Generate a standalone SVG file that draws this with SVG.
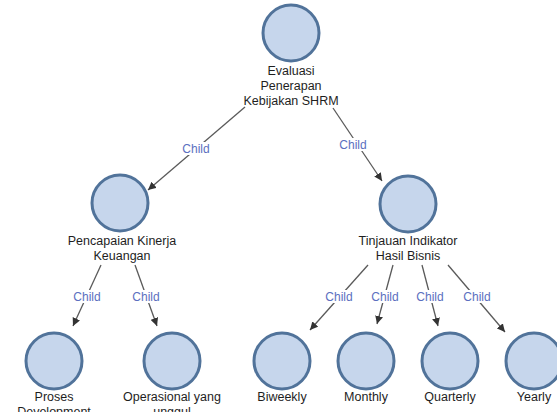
<svg xmlns="http://www.w3.org/2000/svg" width="557" height="412" viewBox="0 0 557 412">
  <defs>
    <marker id="arrow" viewBox="0 0 10 10" refX="10" refY="5" markerWidth="8" markerHeight="8" markerUnits="userSpaceOnUse" orient="auto">
      <path d="M0,0 L10,5 L0,10 z" fill="#333"/>
    </marker>
    <style>
      .node circle { fill: #c6d6ec; stroke: #51739a; stroke-width: 3; }
      .node text { font-family: "Liberation Sans", Arial, sans-serif; font-size: 12.5px; fill: #1e1e1e; text-anchor: middle; }
      .edge line { stroke: #5a5a5a; stroke-width: 1.3; marker-end: url(#arrow); }
      .edge rect { fill: #fff; }
      .edge text { font-family: "Liberation Sans", Arial, sans-serif; font-size: 12px; fill: #5b6fc0; text-anchor: middle; }
    </style>
  </defs>
  <rect width="557" height="412" fill="#fff"/>

  <g id="connectors">
    <g class="edge"><line x1="245" y1="107" x2="148" y2="190"/><rect x="181" y="142" width="30" height="13"/><text x="196" y="153">Child</text></g>
    <g class="edge"><line x1="333" y1="108" x2="382" y2="181"/><rect x="338" y="138" width="30" height="13"/><text x="353" y="149">Child</text></g>
    <g class="edge"><line x1="101" y1="265" x2="73" y2="326"/><rect x="72" y="290" width="30" height="13"/><text x="87" y="301">Child</text></g>
    <g class="edge"><line x1="135" y1="265" x2="157" y2="326"/><rect x="131" y="290" width="30" height="13"/><text x="146" y="301">Child</text></g>
    <g class="edge"><line x1="368" y1="265" x2="310" y2="330"/><rect x="324" y="290" width="30" height="13"/><text x="339" y="301">Child</text></g>
    <g class="edge"><line x1="393" y1="265" x2="377" y2="324"/><rect x="370" y="290" width="30" height="13"/><text x="385" y="301">Child</text></g>
    <g class="edge"><line x1="422" y1="265" x2="438" y2="326"/><rect x="415" y="290" width="30" height="13"/><text x="430" y="301">Child</text></g>
    <g class="edge"><line x1="448" y1="265" x2="505" y2="332"/><rect x="462" y="290" width="30" height="13"/><text x="477" y="301">Child</text></g>
  </g>

  <g id="evaluasi" class="node">
    <circle cx="291" cy="33" r="28"/>
    <text x="291" y="75">Evaluasi</text>
    <text x="291" y="90">Penerapan</text>
    <text x="291" y="105">Kebijakan SHRM</text>
  </g>
  <g id="pencapaian" class="node">
    <circle cx="120" cy="203" r="28"/>
    <text x="122" y="245">Pencapaian Kinerja</text>
    <text x="122" y="260">Keuangan</text>
  </g>
  <g id="tinjauan" class="node">
    <circle cx="408" cy="204" r="28"/>
    <text x="408" y="245">Tinjauan Indikator</text>
    <text x="408" y="260">Hasil Bisnis</text>
  </g>
  <g id="proses" class="node">
    <circle cx="54" cy="361" r="28"/>
    <text x="54" y="401">Proses</text>
    <text x="54" y="416">Development</text>
  </g>
  <g id="operasional" class="node">
    <circle cx="172" cy="361" r="28"/>
    <text x="172" y="401">Operasional yang</text>
    <text x="172" y="416">unggul</text>
  </g>
  <g id="biweekly" class="node">
    <circle cx="282" cy="361" r="28"/>
    <text x="282" y="401">Biweekly</text>
  </g>
  <g id="monthly" class="node">
    <circle cx="366" cy="361" r="28"/>
    <text x="366" y="401">Monthly</text>
  </g>
  <g id="quarterly" class="node">
    <circle cx="450" cy="361" r="28"/>
    <text x="450" y="401">Quarterly</text>
  </g>
  <g id="yearly" class="node">
    <circle cx="534" cy="361" r="28"/>
    <text x="534" y="401">Yearly</text>
  </g>
</svg>
